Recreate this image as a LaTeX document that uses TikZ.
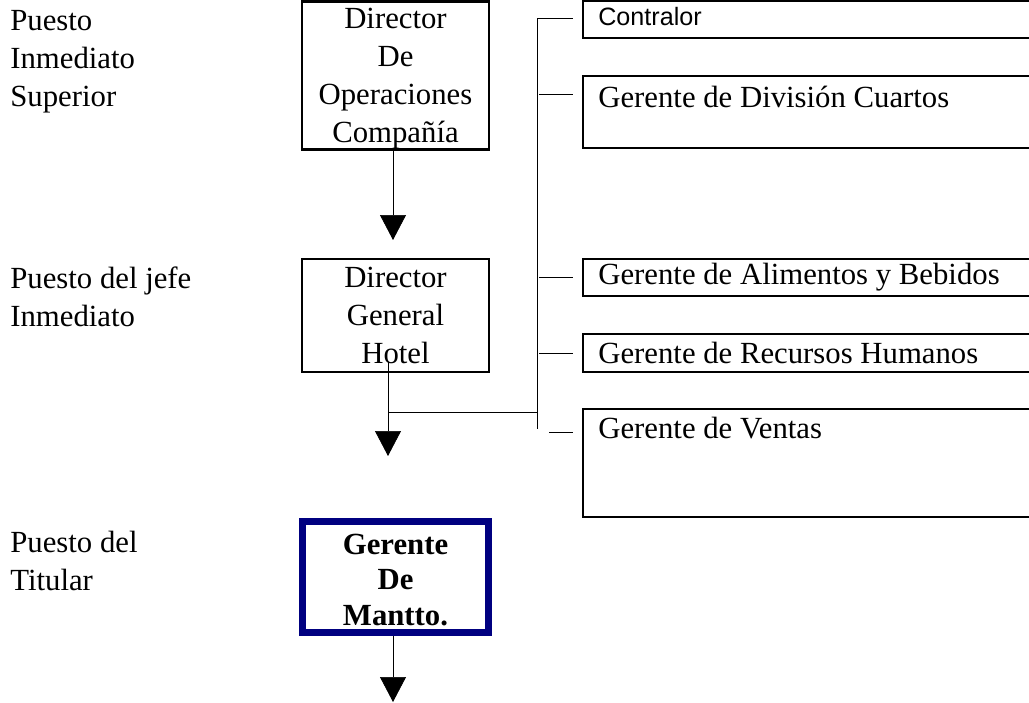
\documentclass[tikz,border=0pt]{standalone}
\usepackage{fontspec}
\setmainfont{Liberation Serif}
\newfontfamily\arialfont{Liberation Sans}
\usetikzlibrary{arrows.meta,calc}
\definecolor{navyline}{RGB}{0,0,128}
\tikzset{
	x=0.02cm, y=-0.02cm, line width=1.1pt,
	arr/.style = {-{Triangle[width=0.52cm,length=0.5cm]}},
	txt/.style = {inner sep=0pt, align=left, font=\fontsize{17.5}{21.6}\selectfont},
	cbox/.style = {draw, line width=1.3pt, align=center, minimum width=3.74cm, inner sep=0pt, font=\fontsize{17.5}{21.6}\selectfont},
	tbox/.style = {cbox, draw=navyline, line width=4pt, minimum width=3.72cm, font=\bfseries\fontsize{17.5}{20.4}\selectfont},
	rbox/.style = {draw, line width=1.3pt, anchor=west, minimum width=10.5cm, inner sep=0pt}
}

\begin{document}
\begin{tikzpicture}
    \useasboundingbox (0,0) rectangle (1029,703);
    \clip (0,0) rectangle (1029,703);

    % left column
    \node[txt, anchor=west] (lab1) at (10,62) {Puesto\\Inmediato\\Superior};
    \node[txt, anchor=west] (lab2) at (10,297) {Puesto del jefe\\Inmediato};
    \node[txt, anchor=west] (lab3) at (10,561) {Puesto del\\Titular};

    % middle column
    \node[cbox, minimum height=2.96cm] (dirop) at (395.5,75.5) {\rule{0pt}{15.3pt}Director\\De\\Operaciones\\Compañía};
    \node[cbox, minimum height=2.26cm] (dirgen) at (395.5,315.5) {Director\\General\\Hotel};
    \node[tbox, minimum height=2.22cm] (mantto) at (395.5,577) {\rule{0pt}{15pt}Gerente\\De\\Mantto.};

    % right column
    \node[rbox, minimum height=0.74cm] (contralor) at (582,19.5) {};
    \node[rbox, minimum height=1.44cm] (cuartos) at (582,112) {};
    \node[rbox, minimum height=0.74cm] (alimentos) at (582,277.5) {};
    \node[rbox, minimum height=0.76cm] (recursos) at (582,353) {};
    \node[rbox, minimum height=2.16cm] (ventas) at (582,463) {};

    \node[txt, anchor=west, font=\arialfont\fontsize{14.3}{17}\selectfont] (t-contralor) at (598,17) {Contralor};
    \node[txt, anchor=west] (t-cuartos) at (598,97) {Gerente de División Cuartos};
    \node[txt, anchor=west] (t-alimentos) at (598,277) {Gerente de Alimentos y Bebidos};
    \node[txt, anchor=west] (t-recursos) at (598,353) {Gerente de Recursos Humanos};
    \node[txt, anchor=west] (t-ventas) at (598,428) {Gerente de Ventas};

    % connectors
    \coordinate (tip1) at (393,240);
    \coordinate (tail2) at (388,362);
    \coordinate (tip2) at (388,456);
    \coordinate (tip3) at (393,702);
    \coordinate (trunk-top) at (537,18);
    \coordinate (trunk-bot) at (537,429);
    \coordinate (join) at (537,412);

    \draw[arr] (dirop.south -| tip1) -- (tip1);
    \draw[arr] (tail2) -- (tip2);
    \draw[arr] (mantto.south -| tip3) -- (tip3);

    \draw (trunk-top) -- (trunk-bot);
    \draw (tail2 |- join) -- (join);
    \foreach \nm/\dy/\len in {contralor/-1.5/45, cuartos/-18/43, alimentos/0/43, recursos/0/43, ventas/-31/33}
        \draw ($(\nm.west)+(-\len,\dy)$) -- ($(\nm.west)+(-9,\dy)$);

\end{tikzpicture}
\end{document}
